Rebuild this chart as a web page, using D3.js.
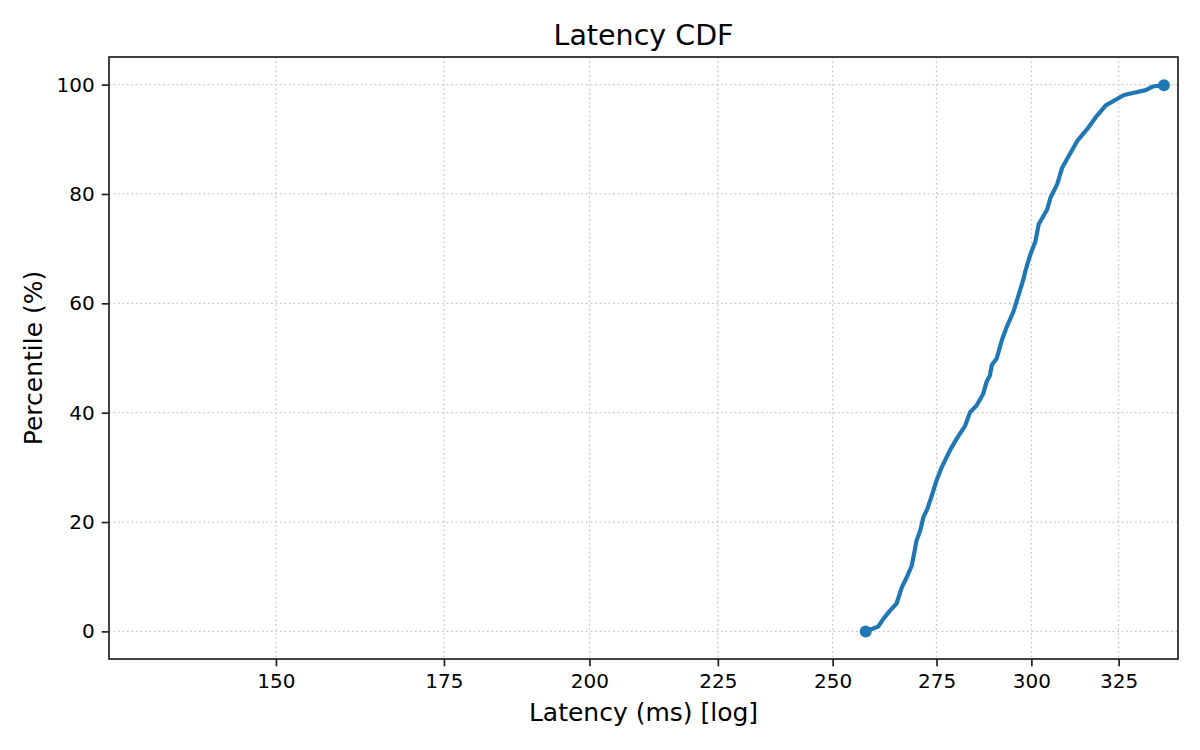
<!DOCTYPE html>
<html>
  <head>
    <title>Latency CDF</title>
    <script src="https://cdn.jsdelivr.net/npm/d3@7/dist/d3.min.js"></script>
    <style>
      body { margin: 0; background: #fff; }
      text { font-family: "DejaVu Sans", sans-serif; fill: #000; }
    </style>
  </head>
  <body>
    <svg width="1200" height="750" id="mainsvg"></svg>
    <script>
      // values
      const latency = [257.7, 260.7, 261.9, 263.5, 265.1, 266.4, 267.6, 268.8, 269.2, 270.0,
        270.9, 271.7, 272.7, 273.8, 275.0, 276.3, 278.4, 280.1, 282.3, 283.6, 285.3, 287.0,
        287.9, 288.8, 289.3, 290.6, 292.0, 293.3, 295.1, 296.5, 297.9, 298.3, 299.7, 301.1,
        302.0, 304.4, 305.3, 307.2, 308.6, 310.5, 312.9, 315.8, 318.2, 321.2, 326.6, 333.2,
        335.3, 338.8];
      const percentile = [0, 0.9, 2.3, 3.8, 5.1, 8.1, 9.9, 12.0, 13.5, 16.6,
        18.4, 20.9, 22.4, 24.8, 27.6, 30.0, 33.1, 35.2, 37.6, 40.1, 41.3, 43.4,
        45.6, 46.8, 48.7, 49.9, 53.3, 55.7, 58.5, 61.5, 64.6, 65.8, 68.9, 71.3,
        74.4, 77.2, 79.3, 81.8, 84.8, 87.0, 89.7, 91.9, 94.0, 96.2, 98.1, 99.0,
        99.65, 99.9];
      const xTicks = [150, 175, 200, 225, 250, 275, 300, 325];
      const yTicks = [0, 20, 40, 60, 80, 100];

      const svg = d3.select('#mainsvg');
      const width = +svg.attr('width');
      const height = +svg.attr('height');
      const margin = {top: 57, right: 22, bottom: 91, left: 109};
      const innerWidth = width - margin.left - margin.right;
      const innerHeight = height - margin.top - margin.bottom;
      const color = '#1f77b4';

      const data = latency.map((d, i) => ({x: d, y: percentile[i]}));

      const xScale = d3.scaleLog()
        .domain([128.7, 343.2])
        .range([0, innerWidth]);
      const yScale = d3.scaleLinear()
        .domain([-5.05, 105.05])
        .range([innerHeight, 0]);

      const g = svg.append('g')
        .attr('transform', `translate(${margin.left}, ${margin.top})`);

      // dotted grid at the major ticks
      g.append('g').selectAll('line').data(xTicks).enter().append('line')
        .attr('x1', d => xScale(d)).attr('x2', d => xScale(d))
        .attr('y1', 0).attr('y2', innerHeight)
        .attr('stroke', '#c8c8c8').attr('stroke-width', 1.3)
        .attr('stroke-dasharray', '1.7,2.8');
      g.append('g').selectAll('line').data(yTicks).enter().append('line')
        .attr('y1', d => yScale(d)).attr('y2', d => yScale(d))
        .attr('x1', 0).attr('x2', innerWidth)
        .attr('stroke', '#c8c8c8').attr('stroke-width', 1.3)
        .attr('stroke-dasharray', '1.7,2.8');

      // axes
      const xAxis = d3.axisBottom(xScale)
        .tickValues(xTicks).tickFormat(d3.format('d'))
        .tickSize(7.3).tickPadding(7);
      const yAxis = d3.axisLeft(yScale)
        .tickValues(yTicks).tickFormat(d3.format('d'))
        .tickSize(7.3).tickPadding(7);

      const xAxisGroup = g.append('g')
        .attr('transform', `translate(0, ${innerHeight})`)
        .call(xAxis);
      const yAxisGroup = g.append('g').call(yAxis);
      [xAxisGroup, yAxisGroup].forEach(ax => {
        ax.attr('font-size', 20).attr('font-family', '"DejaVu Sans", sans-serif');
        ax.selectAll('.domain').remove();
        ax.selectAll('.tick line').attr('stroke', '#222').attr('stroke-width', 1.7);
        ax.selectAll('.tick text')
          .attr('font-size', 20)
          .attr('fill', '#000');
      });

      // frame
      g.append('rect')
        .attr('width', innerWidth).attr('height', innerHeight)
        .attr('fill', 'none').attr('stroke', '#222').attr('stroke-width', 1.7);

      // CDF line
      const line = d3.line()
        .x(d => xScale(d.x))
        .y(d => yScale(d.y));
      g.append('path')
        .datum(data)
        .attr('d', line)
        .attr('fill', 'none')
        .attr('stroke', color)
        .attr('stroke-width', 4.2)
        .attr('stroke-linejoin', 'round')
        .attr('stroke-linecap', 'round');

      // markers at both ends only
      g.selectAll('circle.end')
        .data([data[0], data[data.length - 1]])
        .enter().append('circle')
        .attr('class', 'end')
        .attr('cx', d => xScale(d.x))
        .attr('cy', d => yScale(d.y))
        .attr('r', 6)
        .attr('fill', color);

      // title and axis labels
      svg.append('text')
        .attr('x', margin.left + innerWidth / 2).attr('y', 45)
        .attr('text-anchor', 'middle').attr('font-size', 28.5)
        .text('Latency CDF');
      svg.append('text')
        .attr('x', margin.left + innerWidth / 2).attr('y', 721)
        .attr('text-anchor', 'middle').attr('font-size', 25)
        .text('Latency (ms) [log]');
      svg.append('text')
        .attr('transform', `translate(42, ${margin.top + innerHeight / 2}) rotate(-90)`)
        .attr('text-anchor', 'middle').attr('font-size', 25)
        .text('Percentile (%)');
    </script>
  </body>
</html>
